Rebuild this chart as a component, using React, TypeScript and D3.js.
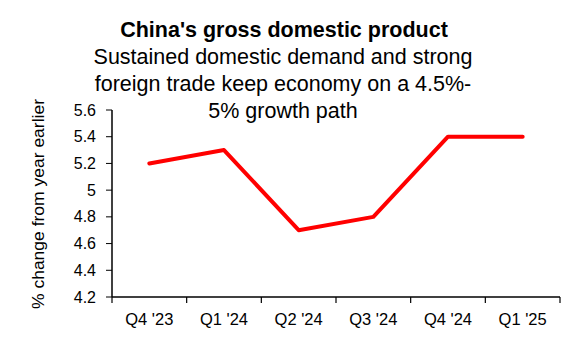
import React from "react";
import * as d3 from "d3";

const categories = ["Q4 '23", "Q1 '24", "Q2 '24", "Q3 '24", "Q4 '24", "Q1 '25"];
const values = [5.2, 5.3, 4.7, 4.8, 5.4, 5.4];
const yTicks = [4.2, 4.4, 4.6, 4.8, 5, 5.2, 5.4, 5.6];
const title = "China's gross domestic product";
const subtitleLines = [
  "Sustained domestic demand and strong",
  "foreign trade keep economy on a 4.5%-",
  "5% growth path",
];
const yLabel = "% change from year earlier";

export default function App() {
  const W = 580, H = 360;
  const left = 112, right = 560, top = 110, bottom = 297;
  const x = d3.scaleBand<string>().domain(categories).range([left, right]);
  const y = d3.scaleLinear().domain([4.2, 5.6]).range([bottom, top]);
  const line = d3
    .line<number>()
    .x((_, i) => (x(categories[i]) as number) + x.bandwidth() / 2)
    .y((d) => y(d));
  const font = "'Liberation Sans', Arial, sans-serif";
  const edges = categories.map((c) => x(c) as number).concat([right]);
  return (
    <svg width={W} height={H} style={{ position: "absolute", left: 0, top: 0, background: "#fff" }} fontFamily={font}>
      <rect width={W} height={H} fill="#fff" />
      <text x={284} y={37} textAnchor="middle" fontWeight="bold" fontSize={21.5} fill="#000">
        {title}
      </text>
      {subtitleLines.map((s, i) => (
        <text key={i} x={283} y={64 + i * 27} textAnchor="middle" fontSize={21.5} fill="#000">
          {s}
        </text>
      ))}
      <text
        transform={`translate(44,${204}) rotate(-90)`}
        textAnchor="middle"
        fontSize={16}
        textLength={210}
        lengthAdjust="spacingAndGlyphs"
        fill="#000"
      >
        {yLabel}
      </text>
      {yTicks.map((t) => (
        <g key={t}>
          <line x1={106} x2={left} y1={y(t)} y2={y(t)} stroke="#000" strokeWidth={1} />
          <text x={96} y={y(t) + 5.5} textAnchor="end" fontSize={16} fill="#000">
            {d3.format("")(t)}
          </text>
        </g>
      ))}
      <line x1={left} x2={left} y1={top} y2={bottom} stroke="#000" strokeWidth={1.5} />
      <line x1={left} x2={right} y1={bottom} y2={bottom} stroke="#000" strokeWidth={1.5} />
      {edges.map((e, i) => (
        <line key={i} x1={e} x2={e} y1={bottom} y2={bottom + 6} stroke="#000" strokeWidth={1.2} />
      ))}
      {categories.map((c) => (
        <text
          key={c}
          x={(x(c) as number) + x.bandwidth() / 2}
          y={325}
          textAnchor="middle"
          fontSize={16.5}
          fill="#000"
        >
          {c}
        </text>
      ))}
      <path d={line(values) || ""} fill="none" stroke="#ff0000" strokeWidth={4} strokeLinejoin="round" strokeLinecap="round" />
    </svg>
  );
}
